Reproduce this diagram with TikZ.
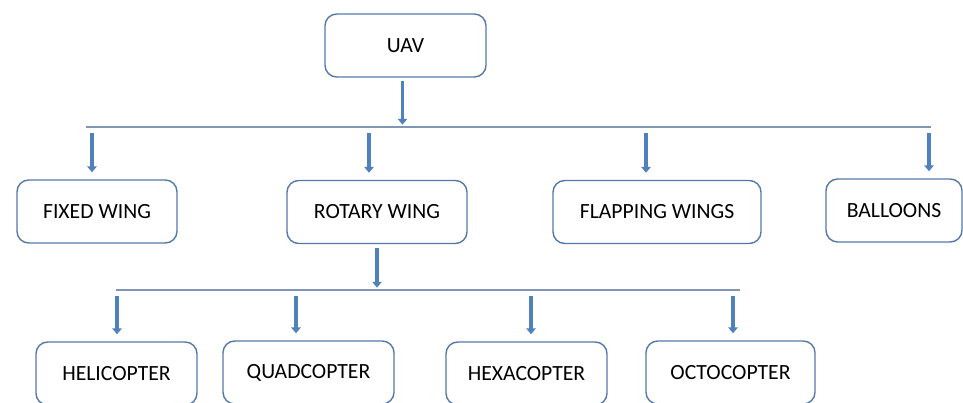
\documentclass[tikz,border=0pt]{standalone}
\usepackage{fontspec}
\setmainfont{Carlito}
\usetikzlibrary{positioning}
\usetikzlibrary{arrows.meta,calc}
\definecolor{boxline}{RGB}{84,120,168}
\definecolor{feedblue}{RGB}{79,129,189}
\definecolor{barline}{RGB}{128,150,180}
\tikzset{
    tree/.style={x=0.03cm,y=-0.03cm,font=\fontsize{18.5}{20}\selectfont},
    item/.style={rectangle,draw=boxline,line width=1.2pt,rounded corners=10pt,
                 minimum height=1.89cm,inner sep=0pt},
    feed/.style={draw=feedblue,line width=3.4pt,
                 -{Triangle[width=8pt,length=5pt]},shorten <=5pt,shorten >=6pt},
    bar/.style={draw=barline,line width=1.6pt},
    }
\begin{document}
\begin{tikzpicture}[tree]
    \clip (0,0) rectangle (963,403);
    % level 0
    \node[item, minimum width=4.83cm] (uav) at (405.5,45.5) {UAV};
    % level 1
    \node[item, minimum width=4.80cm] (fixed) at (97,211.5) {FIXED WING};
    \node[item, minimum width=5.40cm] (rotary) at (377,212) {ROTARY WING};
    \node[item, minimum width=6.24cm] (flapping) at (657,212) {FLAPPING WINGS};
    \node[item, minimum width=4.08cm] (balloons) at (894,210.5) {BALLOONS};
    % level 2
    \node[item, minimum width=4.83cm] (heli) at (116.5,373.5) {HELICOPTER};
    \node[item, minimum width=5.13cm] (quad) at (308.5,372.5) {QUADCOPTER};
    \node[item, minimum width=4.83cm] (hexa) at (526.5,373.5) {HEXACOPTER};
    \node[item, minimum width=5.07cm] (octo) at (730.5,372.5) {OCTOCOPTER};

    % upper bar
    \coordinate (b1l) at (86,127);
    \coordinate (b1r) at (931,127);
    \coordinate (uavout) at ($(uav.south)+(-3,0)$);
    \draw[bar] (b1l) -- (b1r);
    \draw[feed, shorten <=3pt, shorten >=2pt] (uavout) -- (uavout |- b1l);
    \foreach \x/\n in {92/fixed, 369/rotary, 646/flapping, 929/balloons}
        \draw[feed] (\x,127) -- (\x,127 |- \n.north);

    % lower bar
    \coordinate (b2l) at (116,290);
    \coordinate (b2r) at (740,290);
    \draw[bar] (b2l) -- (b2r);
    \draw[feed, shorten <=3pt, shorten >=2pt] (rotary.south) -- (rotary.south |- b2l);
    \foreach \x/\n in {117/heli, 296/quad, 531/hexa, 733/octo}
        \draw[feed] (\x,290) -- (\x,290 |- \n.north);
\end{tikzpicture}
\end{document}
